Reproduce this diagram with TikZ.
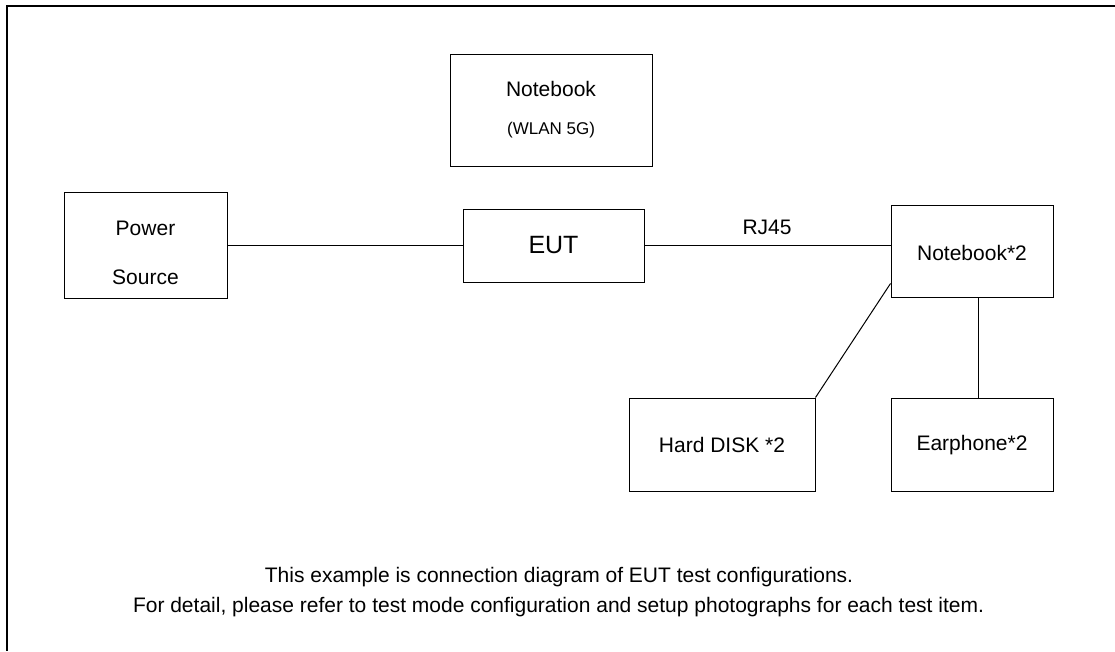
\documentclass[tikz,border=0pt]{standalone}
\usepackage{fontspec}
\setmainfont{Liberation Sans}
\usetikzlibrary{calc}
\tikzset{
  box/.style={draw, line width=1pt, inner sep=0pt},
  txt/.style={inner sep=0pt, font=\fontsize{21}{25}\selectfont},
  small/.style={inner sep=0pt, font=\fontsize{17}{20}\selectfont},
  big/.style={inner sep=0pt, font=\fontsize{25}{30}\selectfont},
  wire/.style={line width=1pt},
  frame/.style={line width=2.5pt}
}
\begin{document}
\begin{tikzpicture}[x=1pt,y=1pt]
\useasboundingbox (0,0) rectangle (1115,-651);
% frame (only top and left visible)
\coordinate (ftr) at (1115,-6);
\coordinate (ftl) at (7,-6);
\coordinate (fbl) at (7,-651);
\draw[frame] (ftr) -- (ftl) -- (fbl);
% boxes
\node[box, minimum width=202pt, minimum height=112pt] (nb5g) at (551,-110) {};
\node[box, minimum width=163pt, minimum height=106pt] (power) at (145.5,-245.5) {};
\node[box, minimum width=181pt, minimum height=73pt] (eut) at (553.5,-245.5) {};
\node[box, minimum width=162pt, minimum height=92pt] (nb2) at (972,-251) {};
\node[box, minimum width=186pt, minimum height=93pt] (hdd) at (722,-444.5) {};
\node[box, minimum width=162pt, minimum height=93pt] (ear) at (972,-444.5) {};
% texts
\node[txt] (t1) at (551,-89) {Notebook};
\node[small] (t2) at (551,-130) {(WLAN 5G)};
\node[txt] (t3) at (145.5,-228) {Power};
\node[txt] (t4) at (145.5,-277) {Source};
\node[big] (t5) at (553.5,-245.5) {EUT};
\node[txt] (t6) at (972,-253) {Notebook*2};
\node[txt] (t7) at (722,-445) {Hard DISK *2};
\node[txt] (t8) at (972,-445) {Earphone*2};
\node[txt] (rj) at (767,-227) {RJ45};
\node[txt] (n1) at (559,-577) {This example is connection diagram of EUT test configurations.};
\node[txt] (n2) at (558.5,-607) {For detail, please refer to test mode configuration and setup photographs for each test item.};
% connectors
\draw[wire] (power.east) -- (eut.west);
\draw[wire] (eut.east) -- (eut.east -| nb2.west);
\draw[wire] ($(nb2.south west)+(0,14)$) -- (hdd.north east);
\draw[wire] ($(ear.north)+(6,0)$) -- ($(nb2.south)+(6,0)$);
\end{tikzpicture}
\end{document}
